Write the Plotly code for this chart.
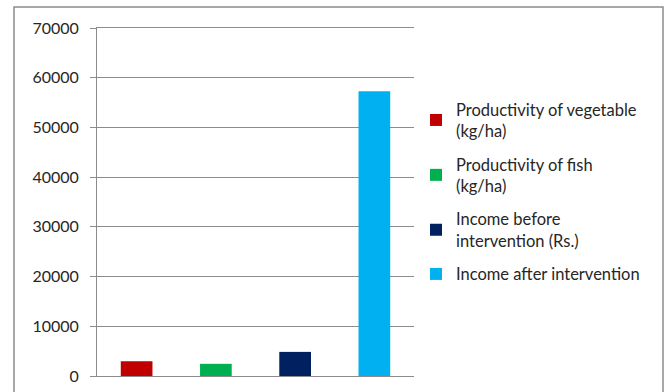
import plotly.graph_objects as go

# Indicators shown as separate bars, one per category
categories = [
    "Productivity of vegetable<br>(kg/ha)",
    "Productivity of fish<br>(kg/ha)",
    "Income before<br>intervention (Rs.)",
    "Income after intervention",
]
values = [2950, 2450, 4850, 57300]
colors = ["#C00000", "#00B050", "#002060", "#00B0F0"]
y_ticks = [0, 10000, 20000, 30000, 40000, 50000, 60000, 70000]

W, H = 668, 392
ml, mr, mt, mb = 97, 254, 28, 16
pw, ph = W - ml - mr, H - mt - mb
GRID = "#8C8C8C"

fig = go.Figure()
for i, (name, val, col) in enumerate(zip(categories, values, colors)):
    fig.add_trace(go.Bar(
        x=[i], y=[val], name=name, marker=dict(color=col, line=dict(width=0)),
        width=0.4, legendgroup=str(i), hoverinfo="y",
    ))

fig.update_layout(
    width=W, height=H,
    margin=dict(l=ml, r=mr, t=mt, b=mb, pad=0, autoexpand=False),
    paper_bgcolor="white", plot_bgcolor="white",
    barmode="overlay",
    font=dict(family="Lato, Open Sans, sans-serif", size=16, color="#262626"),
    showlegend=True,
    legend=dict(
        x=(416 - ml) / pw, y=(376 - 92) / ph, xanchor="left", yanchor="top",
        bgcolor="rgba(0,0,0,0)", tracegroupgap=9,
        font=dict(size=16.5, color="#262626"),
    ),
    xaxis=dict(
        range=[-0.5, 3.5], showticklabels=False, ticks="", showgrid=False,
        zeroline=False, showline=True, mirror=True, linecolor=GRID, linewidth=1,
        fixedrange=True,
    ),
    yaxis=dict(
        range=[0, 70000], tickvals=y_ticks, ticktext=[str(v) for v in y_ticks],
        showgrid=True, gridcolor=GRID, gridwidth=1,
        showline=True, linecolor=GRID, linewidth=1,
        ticks="outside", ticklen=6, tickcolor=GRID, ticklabelstandoff=8,
        zeroline=False, tickfont=dict(size=16, color="#262626"),
    ),
    shapes=[dict(
        type="rect", xref="paper", yref="paper",
        x0=(14 - ml) / pw, x1=(663 - ml) / pw,
        y0=(376 - 400) / ph, y1=(376 - 7) / ph,
        line=dict(color=GRID, width=1.5), fillcolor="rgba(0,0,0,0)", layer="below",
    )],
)

fig.write_html("out.html")
